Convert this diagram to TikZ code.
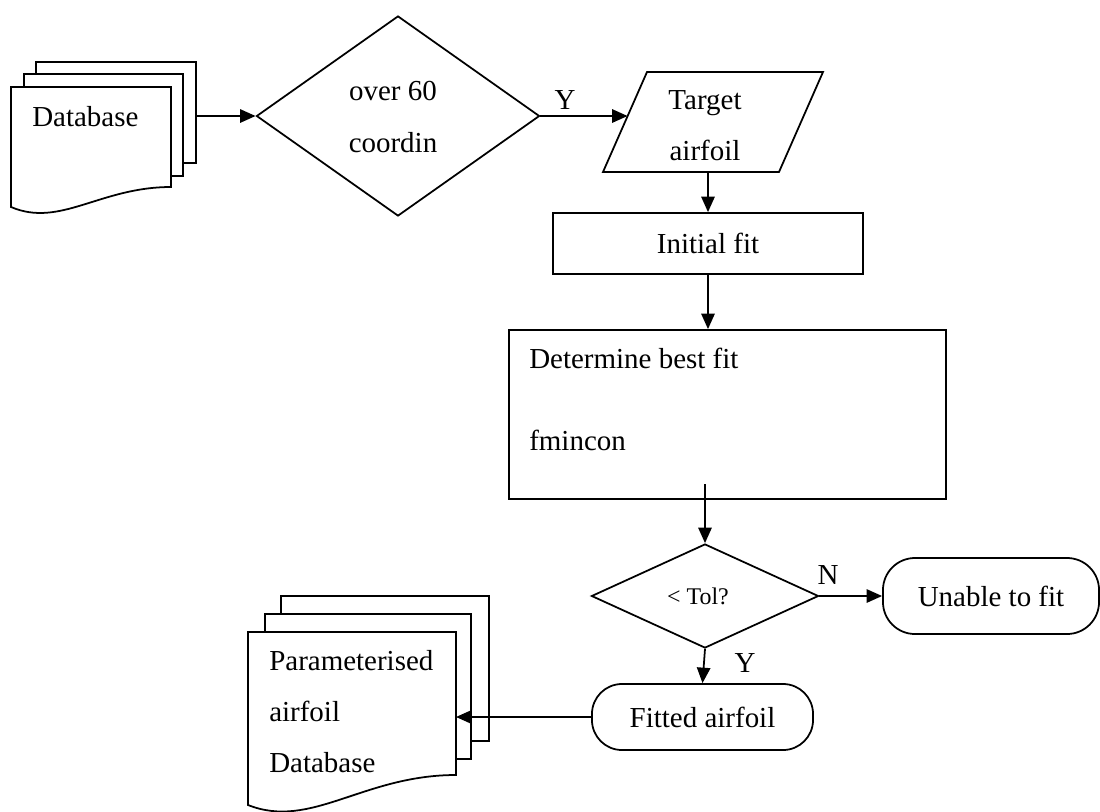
\documentclass[tikz,border=0pt]{standalone}
\usepackage{fontspec}
\setmainfont{Liberation Serif}
\usetikzlibrary{arrows.meta,shapes.geometric}
\begin{document}
\begin{tikzpicture}[x=0.025cm,y=-0.025cm,
  every node/.style={font=\fontsize{20.6}{36.3}\selectfont},
  ln/.style={line width=1.25pt},
  arr/.style={ln,-{Triangle[length=11pt,width=9.5pt]}},
  boxnode/.style={draw,ln,fill=white,inner sep=0pt,align=center},
  txt/.style={inner sep=0pt,align=center},
  smalltxt/.style={font=\fontsize{17}{20}\selectfont}
]
\useasboundingbox (0,0) rectangle (1100,811);

% top document stack
\draw[ln,fill=white] (36,62) rectangle (196,163);
\draw[ln,fill=white] (24,74) rectangle (183,176);
\draw[ln,fill=white] (11,87) -- (171,87) -- (171,187) .. controls (100,187) and (60,228) .. (11,207) -- cycle;
\node[txt,anchor=west] (db) at (32,117) {Database};
\coordinate (dbout) at (196,116);

% decision 1
\node[boxnode,diamond,minimum width=7.075cm,minimum height=5cm] (d1) at (398,116) {};
\node[txt] (d1t) at (393,117) {over 60\\coordin};

% target airfoil (parallelogram)
\draw[ln,fill=white] (647,72) -- (823,72) -- (779,172) -- (603,172) -- cycle;
\node[txt] (tgt) at (705,126) {Target\\airfoil};
\coordinate (tgtin) at (627.6,116);
\coordinate (tgtout) at (708,172);

% initial fit
\node[boxnode,minimum width=7.75cm,minimum height=1.525cm] (init) at (708,243.5) {Initial fit};

% determine best fit
\node[boxnode,minimum width=10.925cm,minimum height=4.225cm] (det) at (727.5,414.5) {};
\node[txt,anchor=west,align=left] (dett) at (529,399) {Determine best fit\\[22pt]fmincon};
\coordinate (detout) at (705,484);

% decision 2
\node[boxnode,diamond,minimum width=5.675cm,minimum height=2.6cm] (d2) at (705,596) {};
\node[txt,smalltxt] (d2t) at (698,596) {< Tol?};

% unable to fit
\node[boxnode,rounded corners=0.8cm,minimum width=5.4cm,minimum height=1.9cm] (unable) at (991,596) {Unable to fit};

% fitted airfoil
\node[boxnode,rounded corners=0.75cm,minimum width=5.525cm,minimum height=1.65cm] (fit) at (702.5,717) {Fitted airfoil};

% bottom document stack
\draw[ln,fill=white] (281,596) rectangle (489,741);
\draw[ln,fill=white] (265,614) rectangle (471,759);
\draw[ln,fill=white] (248,632) -- (456,632) -- (456,775) .. controls (363,775) and (311,830) .. (248,805) -- cycle;
\node[txt,anchor=west,align=left] (pdb) at (269,711.5) {Parameterised\\airfoil\\Database};
\coordinate (pdbin) at (456,719);

% connectors
\draw[arr] (dbout) -- (d1.west);
\draw[arr] (d1.east) -- (tgtin);
\node (ylab1) at (565,100) {Y};
\draw[arr] (tgtout) -- (init.north);
\draw[arr] (init.south) -- (init.south |- det.north);
\draw[arr] (detout) -- (d2.north);
\draw[arr] (d2.east) -- (unable.west);
\node (nlab) at (828,575) {N};
\draw[arr] (d2.south) -- (fit.north);
\node (ylab2) at (745,663) {Y};
\draw[arr] (fit.west) -- (fit.west -| pdbin);
\end{tikzpicture}
\end{document}
